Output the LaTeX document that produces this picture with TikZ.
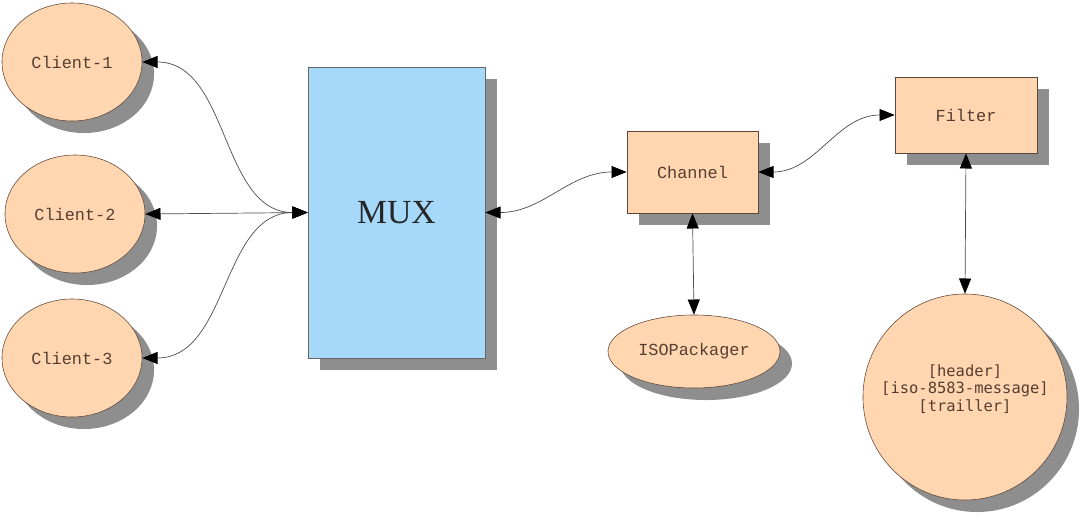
\documentclass[tikz,border=0pt]{standalone}
\usepackage{fontspec}
\setmainfont{Liberation Serif}
\setmonofont{Liberation Mono}
\newfontfamily\sansmono{DejaVu Sans Mono}
\usetikzlibrary{shapes.geometric,shadows,arrows.meta}
\definecolor{peach}{RGB}{255,214,176}
\definecolor{muxblue}{RGB}{166,216,250}
\definecolor{shadowgray}{RGB}{142,142,142}
\definecolor{edgebrown}{RGB}{95,70,55}
\definecolor{labeltext}{RGB}{85,62,50}
\tikzset{
  stin/.style={drop shadow={shadow xshift=0.3cm,shadow yshift=-0.3cm,fill=shadowgray,opacity=1}},
  klient/.style={ellipse,draw=edgebrown,fill=peach,stin,inner sep=0pt,
    text=labeltext,font=\ttfamily\fontsize{12}{14}\selectfont},
  blok/.style={rectangle,draw=edgebrown,fill=peach,stin,inner sep=0pt,
    text=labeltext,font=\ttfamily\fontsize{12}{14}\selectfont},
  spoj/.style={draw=black!70,line width=0.5pt,
    >={Triangle[length=3.8mm,width=3mm,color=black]},<->}
}
\begin{document}
\begin{tikzpicture}[x=0.025cm,y=-0.025cm]
\useasboundingbox (0,0) rectangle (1081,521);
% klienti
\node[klient,minimum width=3.5cm,minimum height=2.95cm] (c1) at (72,62) {Client-1};
\node[klient,minimum width=3.5cm,minimum height=2.95cm] (c2) at (75,214) {Client-2};
\node[klient,minimum width=3.5cm,minimum height=2.95cm] (c3) at (72,358) {Client-3};
% multiplexor
\node[rectangle,draw=black!60,fill=muxblue,stin,minimum width=4.425cm,minimum height=7.275cm,
  font=\fontsize{24}{28}\selectfont,text=black!85] (mux) at (396.5,212.5) {MUX};
\node[blok,minimum width=3.275cm,minimum height=2.05cm] (chan) at (692.5,172) {Channel};
\node[klient,minimum width=4.3cm,minimum height=1.825cm] (iso) at (694,351.5) {ISOPackager};
\node[blok,minimum width=3.55cm,minimum height=1.9cm] (filt) at (966,115) {Filter};
\node[klient,minimum width=5.1cm,minimum height=5.15cm,
  label={[align=center,yshift=0.2cm,text=labeltext,font=\sansmono\fontsize{11}{12.5}\selectfont]center:%
  {[header]}\\{}{[iso-8583-message]}\\{}{[trailler]}}] (msg) at (965,397) {};
% spoje
\draw[spoj] (c1.east) to[out=0,in=180] (mux.west);
\draw[spoj] (c2.east) -- (mux.west);
\draw[spoj] (c3.east) to[out=0,in=180] (mux.west);
\draw[spoj] (mux.east) to[out=0,in=180] (chan.west);
\draw[spoj] (chan.east) to[out=0,in=180] (filt.west);
\draw[spoj] (chan.south) -- (iso.north);
\draw[spoj] (filt.south) -- (msg.north);
\end{tikzpicture}
\end{document}
